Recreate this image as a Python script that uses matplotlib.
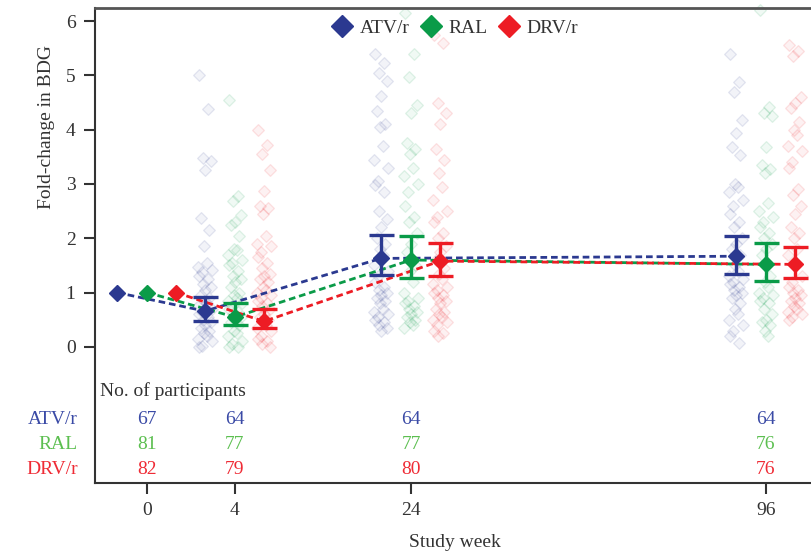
import numpy as np
import matplotlib
matplotlib.use("Agg")
import matplotlib.pyplot as plt
from matplotlib.lines import Line2D

plt.rcParams['font.family'] = ['Liberation Serif', 'DejaVu Serif']

# %% data
weeks = [0, 4, 24, 96]
groups = ["ATV/r", "RAL", "DRV/r"]

atv_mean = [1.00, 0.66, 1.63, 1.67]
atv_low = [1.00, 0.48, 1.32, 1.34]
atv_high = [1.00, 0.92, 2.06, 2.04]

ral_mean = [1.00, 0.55, 1.60, 1.52]
ral_low = [1.00, 0.40, 1.26, 1.21]
ral_high = [1.00, 0.80, 2.04, 1.92]

drv_mean = [1.00, 0.47, 1.58, 1.52]
drv_low = [1.00, 0.34, 1.30, 1.26]
drv_high = [1.00, 0.69, 1.92, 1.84]

# individual participants (approximate)
atv_w4 = [5.0, 4.38, 3.48, 3.42, 3.25, 2.38, 2.15, 1.85, 1.55, 1.48, 1.42, 1.38,
          1.3, 1.25, 1.15, 1.1, 1.05, 0.95, 0.9, 0.85, 0.8, 0.75, 0.7, 0.65,
          0.6, 0.55, 0.5, 0.45, 0.4, 0.35, 0.3, 0.25, 0.2, 0.15, 0.1, 0.02, 0.0]
ral_w4 = [4.55, 2.78, 2.68, 2.42, 2.3, 2.25, 2.05, 1.8, 1.78, 1.7, 1.6, 1.55,
          1.5, 1.4, 1.3, 1.25, 1.2, 1.1, 1.0, 0.95, 0.9, 0.85, 0.8, 0.75, 0.7,
          0.65, 0.6, 0.55, 0.5, 0.45, 0.4, 0.3, 0.25, 0.2, 0.1, 0.05, 0.0, 0.0]
drv_w4 = [4.0, 3.72, 3.55, 3.25, 2.88, 2.6, 2.55, 2.45, 2.05, 1.9, 1.85, 1.75,
          1.65, 1.55, 1.45, 1.35, 1.3, 1.25, 1.2, 1.1, 1.05, 1.0, 0.95, 0.9,
          0.85, 0.8, 0.75, 0.7, 0.6, 0.55, 0.5, 0.45, 0.4, 0.35, 0.3, 0.2,
          0.15, 0.1, 0.05, 0.0]
atv_w24 = [5.4, 5.22, 5.05, 4.9, 4.62, 4.35, 4.1, 4.05, 3.7, 3.45, 3.3, 3.05,
           2.98, 2.85, 2.5, 2.35, 2.2, 2.0, 1.9, 1.8, 1.7, 1.5, 1.4, 1.3, 1.2,
           1.1, 1.05, 1.0, 0.95, 0.9, 0.85, 0.8, 0.7, 0.65, 0.6, 0.55, 0.5,
           0.45, 0.4, 0.35, 0.3]
ral_w24 = [6.15, 5.4, 4.97, 4.45, 4.3, 3.75, 3.65, 3.55, 3.3, 3.15, 3.0, 2.85,
           2.6, 2.4, 2.3, 2.1, 1.9, 1.75, 1.5, 1.4, 1.2, 1.0, 0.9, 0.85, 0.8,
           0.75, 0.7, 0.65, 0.6, 0.55, 0.5, 0.45, 0.4, 0.35]
drv_w24 = [5.75, 5.6, 4.5, 4.3, 4.1, 3.65, 3.45, 3.2, 2.95, 2.7, 2.5, 2.4, 2.3,
           2.1, 2.0, 1.85, 1.75, 1.6, 1.45, 1.35, 1.25, 1.15, 1.1, 1.05, 1.0,
           0.95, 0.9, 0.85, 0.8, 0.7, 0.65, 0.6, 0.55, 0.5, 0.45, 0.4, 0.3,
           0.25, 0.2]
atv_w96 = [5.4, 4.88, 4.7, 4.17, 3.93, 3.68, 3.53, 3.0, 2.95, 2.85, 2.7, 2.6,
           2.45, 2.3, 2.2, 2.0, 1.9, 1.8, 1.7, 1.5, 1.4, 1.3, 1.25, 1.2, 1.15,
           1.1, 1.05, 1.0, 0.95, 0.9, 0.8, 0.7, 0.6, 0.5, 0.4, 0.3, 0.2, 0.07]
ral_w96 = [6.2, 4.42, 4.3, 4.25, 3.68, 3.35, 3.28, 3.2, 2.65, 2.5, 2.4, 2.3,
           2.2, 2.1, 2.0, 1.9, 1.8, 1.7, 1.3, 1.2, 1.1, 1.0, 0.95, 0.9, 0.85,
           0.8, 0.7, 0.6, 0.5, 0.45, 0.4, 0.3, 0.2]
drv_w96 = [5.55, 5.45, 5.35, 4.6, 4.5, 4.4, 4.15, 4.0, 3.9, 3.7, 3.6, 3.4, 3.3,
           2.9, 2.8, 2.6, 2.45, 2.2, 2.1, 2.0, 1.8, 1.7, 1.3, 1.2, 1.1, 1.05,
           1.0, 0.95, 0.9, 0.85, 0.8, 0.75, 0.7, 0.65, 0.6, 0.55, 0.5]

atv_n = [67, 64, 64, 64]
ral_n = [81, 77, 77, 76]
drv_n = [82, 79, 80, 76]

# %% style
colors = ["#2b3990", "#0a9b48", "#ed1c24"]
table_colors = ["#3a4aa6", "#5cbf50", "#ef2b35"]
offsets_px = [-30, 0, 29]
jitter_px = [-6, 3, -2, 6, 0, -4, 4, -1, 2, -7, 7, -3]
dark = "#333333"
power = 0.615

means = [atv_mean, ral_mean, drv_mean]
lows = [atv_low, ral_low, drv_low]
highs = [atv_high, ral_high, drv_high]
scatter_vals = [[atv_w4, atv_w24, atv_w96],
                [ral_w4, ral_w24, ral_w96],
                [drv_w4, drv_w24, drv_w96]]
counts = [atv_n, ral_n, drv_n]

fig = plt.figure(figsize=(8.12, 5.57), dpi=100)
ax = fig.add_axes([95 / 812, 0.1334, 717 / 812, 0.8522])


def fwd(x):
    x = np.asarray(x, dtype=float)
    return np.sign(x) * np.abs(x) ** power


def inv(x):
    x = np.asarray(x, dtype=float)
    return np.sign(x) * np.abs(x) ** (1 / power)


ax.set_xscale("function", functions=(fwd, inv))
ax.set_xlim(-1.73, 107.9)
ax.set_ylim(-2.5, 6.24)


def shift_x(week, dx):
    # move a data x by a number of pixels
    dx = np.atleast_1d(np.asarray(dx, dtype=float))
    x0 = ax.transData.transform((week, 0))[0]
    pts = np.column_stack([x0 + dx, np.zeros_like(dx)])
    return ax.transData.inverted().transform(pts)[:, 0]


# individual points
for g in range(3):
    for k, w in enumerate(weeks[1:]):
        vals = scatter_vals[g][k]
        jit = [offsets_px[g] + jitter_px[i % len(jitter_px)] for i in range(len(vals))]
        xs = shift_x(w, jit)
        ax.scatter(xs, vals, marker="D", s=36,
                   facecolor=matplotlib.colors.to_rgba(colors[g], 0.06),
                   edgecolor=matplotlib.colors.to_rgba(colors[g], 0.12),
                   linewidth=0.9, zorder=1, clip_on=False)

# mean lines, error bars
for g in range(3):
    xs = np.array([shift_x(w, offsets_px[g])[0] for w in weeks])
    m = np.array(means[g])
    ax.plot(xs, m, color=colors[g], lw=2.0, ls=(0, (2.4, 1.4)), zorder=3)
    lo = m - np.array(lows[g])
    hi = np.array(highs[g]) - m
    ax.errorbar(xs[1:], m[1:], yerr=[lo[1:], hi[1:]], fmt="none",
                ecolor=colors[g], elinewidth=2.4, capsize=9, capthick=2.4, zorder=4)
    ax.plot(xs, m, ls="none", marker="D", ms=8.5, color=colors[g], zorder=5)

# participant table
ax.text(0.007, -0.81, "No. of participants", transform=ax.get_yaxis_transform(),
        ha="left", va="center", fontsize=14, color=dark)
row_y = [-1.34, -1.79, -2.26]
for g in range(3):
    ax.text(-0.024, row_y[g], groups[g], transform=ax.get_yaxis_transform(),
            ha="right", va="center", fontsize=14, color=table_colors[g], clip_on=False)
    for w, n in zip(weeks, counts[g]):
        ax.text(w, row_y[g], str(n), ha="center", va="center", fontsize=14,
                color=table_colors[g])

# axes styling
ax.set_xticks(weeks)
ax.set_xticklabels([str(w) for w in weeks])
ax.set_yticks(range(0, 7))
ax.tick_params(axis="both", direction="out", length=8, width=1.5, color=dark,
               labelsize=14, labelcolor=dark, pad=6)
for side in ["left", "bottom"]:
    ax.spines[side].set_color(dark)
    ax.spines[side].set_linewidth(1.5)
ax.spines["top"].set_color("#555555")
ax.spines["top"].set_linewidth(2)
ax.spines["right"].set_visible(False)

ax.set_xlabel("Study week", fontsize=14, color=dark)
ax.xaxis.set_label_coords(0.502, -0.108)
ax.set_ylabel("Fold-change in BDG", fontsize=14, color=dark, va="center")
ax.yaxis.set_label_coords(-0.068, 0.749)

handles = [Line2D([], [], marker="D", ls="none", color=c, ms=11) for c in colors]
ax.legend(handles, groups, loc="upper center", bbox_to_anchor=(0.502, 1.0),
          ncol=3, frameon=False, fontsize=14, handlelength=1.0,
          handletextpad=0.4, columnspacing=0.6, borderaxespad=0.2,
          labelcolor=dark)

fig.savefig("out.png", dpi=100)
